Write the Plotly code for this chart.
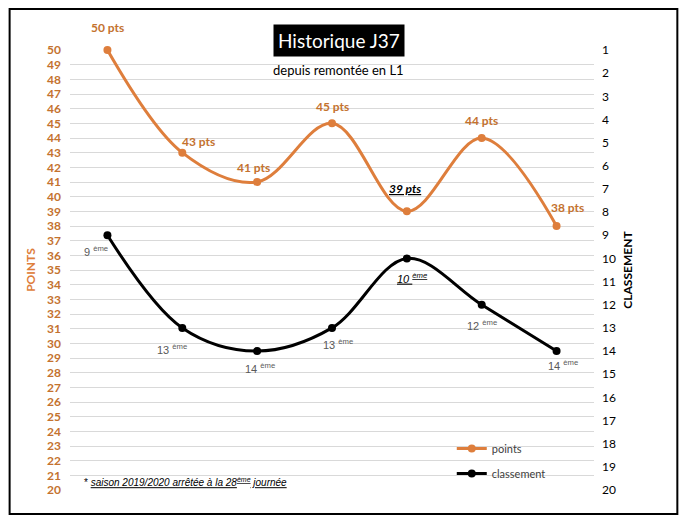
import plotly.graph_objects as go

saisons = ["2015/2016", "2016/2017", "2017/2018", "2018/2019", "2019/2020", "2020/2021", "2021/2022"]
points = [50, 43, 41, 45, 39, 44, 38]
classement = [9, 13, 14, 13, 10, 12, 14]
points_labels = ["50 pts", "43 pts", "41 pts", "45 pts", "<i><u>39 pts</u></i>", "44 pts", "38 pts"]
classement_labels = ["9 <sup>ème</sup>", "13 <sup>ème</sup>", "14 <sup>ème</sup>", "13 <sup>ème</sup>",
                     "<i><u>10 <sup>ème</sup></u></i>", "12 <sup>ème</sup>", "14 <sup>ème</sup>"]
left_ticks = list(range(20, 51))
right_ticks = list(range(1, 21))

ORANGE_LINE = "#DE7E3C"
ORANGE_TXT = "#C4722F"
FONT = "Lato"

fig = go.Figure()
fig.add_trace(go.Scatter(
    x=saisons, y=points, name="points", mode="lines+markers",
    line=dict(color=ORANGE_LINE, width=3, shape="spline", smoothing=1.0),
    marker=dict(size=8, color=ORANGE_LINE), cliponaxis=False, legendgroup="a"))
fig.add_trace(go.Scatter(
    x=saisons, y=classement, name="classement", mode="lines+markers", yaxis="y2",
    line=dict(color="black", width=3, shape="spline", smoothing=1.0),
    marker=dict(size=8, color="black"), cliponaxis=False, legendgroup="b"))

annotations = []
p_off = [(0, 23), (16, 11), (-4, 15), (0, 17), (-2, 23), (0, 18), (11, 19)]
for i, (lab, (dx, dy)) in enumerate(zip(points_labels, p_off)):
    col = "black" if i == 4 else ORANGE_TXT
    annotations.append(dict(x=saisons[i], y=points[i], xref="x", yref="y", text="<b>" + lab + "</b>",
                            showarrow=False, xshift=dx, yshift=dy, xanchor="center", yanchor="middle",
                            font=dict(family=FONT, size=12, color=col)))
c_off = [(-11, -16), (-10, -21), (3, -17), (6, -16), (5, -20), (0, -20), (6, -14)]
for i, (lab, (dx, dy)) in enumerate(zip(classement_labels, c_off)):
    col = "black" if i == 4 else "#595959"
    annotations.append(dict(x=saisons[i], y=classement[i], xref="x", yref="y2", text=lab,
                            showarrow=False, xshift=dx, yshift=dy, xanchor="center", yanchor="middle",
                            font=dict(family="Liberation Sans", size=11, color=col)))

def px(v):
    return (v - 69.5) / 525

def py(v):
    return (490 - v) / 440

annotations.append(dict(x=px(339), y=py(40), xref="paper", yref="paper", xanchor="center", yanchor="middle",
                        text="Historique J37", showarrow=False, bgcolor="black",
                        font=dict(family=FONT, size=19, color="white"), borderpad=4))
annotations.append(dict(x=px(339), y=py(70), xref="paper", yref="paper", xanchor="center", yanchor="middle",
                        text="depuis remontée en L1", showarrow=False,
                        font=dict(family=FONT, size=13, color="black")))
annotations.append(dict(x=px(82), y=py(482), xref="paper", yref="paper",
                        xanchor="left", yanchor="middle",
                        text="* <i><u>saison 2019/2020 arrêtée à la 28<sup>ème</sup> journée</u></i>",
                        showarrow=False, font=dict(family="Liberation Sans", size=10, color="black")))

fig.update_layout(
    width=671, height=507,
    margin=dict(l=61.5, r=84.5, t=42, b=25),
    paper_bgcolor="white", plot_bgcolor="white",
    font=dict(family=FONT),
    showlegend=True,
    legend=dict(x=px(452), y=py(434), xanchor="left", yanchor="top",
                bgcolor="rgba(0,0,0,0)", font=dict(family=FONT, size=11, color="#404040"),
                tracegroupgap=6),
    xaxis=dict(type="category", range=[-0.5, 6.5], showticklabels=False, showgrid=False,
               zeroline=False, showline=False, ticks=""),
    yaxis=dict(range=[20, 50], tickvals=left_ticks, showgrid=True, gridcolor="#D9D9D9",
               gridwidth=1, zeroline=False, showline=False,
               tickfont=dict(family=FONT, size=12, color=ORANGE_TXT, weight="bold"),
               title=dict(text="<b>POINTS</b>", font=dict(family=FONT, size=12, color=ORANGE_LINE),
                          standoff=8), ticklabelstandoff=8),
    yaxis2=dict(overlaying="y", side="right", range=[20, 1], tickvals=right_ticks,
                showgrid=False, zeroline=False, showline=False,
                tickfont=dict(family=FONT, size=12, color="black"),
                title=dict(text="<b>CLASSEMENT</b>", font=dict(family=FONT, size=12, color="black"),
                           standoff=8), ticklabelstandoff=7),
    annotations=annotations,
    shapes=[dict(type="rect", xref="paper", yref="paper",
                 x0=px(9), x1=px(678), y0=py(514), y1=py(9),
                 line=dict(color="black", width=2), fillcolor="rgba(0,0,0,0)", layer="below")],
)

fig.write_html("out.html")
